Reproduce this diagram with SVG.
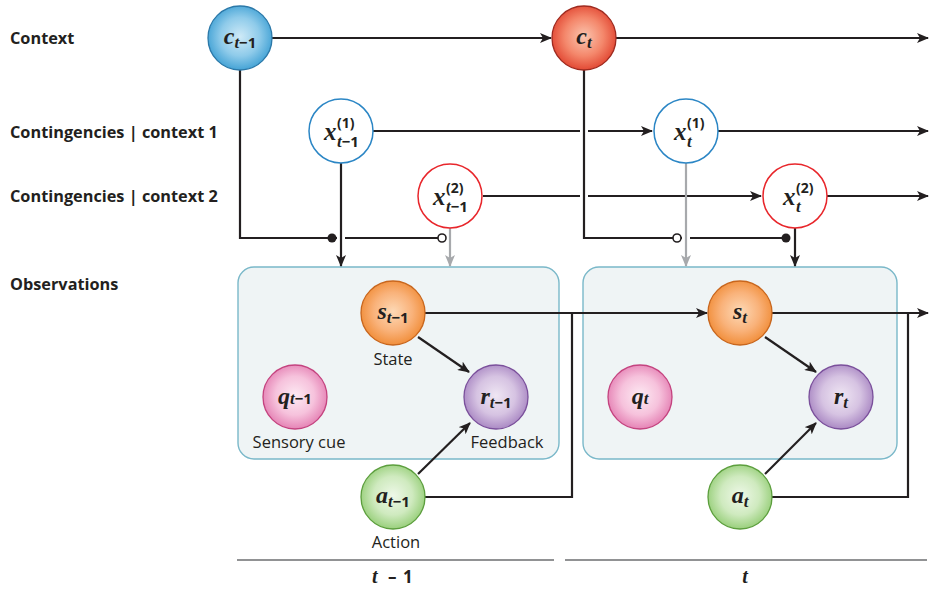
<svg xmlns="http://www.w3.org/2000/svg" width="933" height="589" viewBox="0 0 933 589">
  <defs>
    <radialGradient id="gBlue" cx="50%" cy="48%" r="55%">
      <stop offset="0" stop-color="#cfeaf7"/>
      <stop offset="0.55" stop-color="#8fcbea"/>
      <stop offset="1" stop-color="#3b9ed3"/>
    </radialGradient>
    <radialGradient id="gRed" cx="50%" cy="48%" r="55%">
      <stop offset="0" stop-color="#fbc6b0"/>
      <stop offset="0.55" stop-color="#f4876b"/>
      <stop offset="1" stop-color="#e0412d"/>
    </radialGradient>
    <radialGradient id="gOrange" cx="50%" cy="48%" r="55%">
      <stop offset="0" stop-color="#fdd9b6"/>
      <stop offset="0.55" stop-color="#f9b27a"/>
      <stop offset="1" stop-color="#f08a33"/>
    </radialGradient>
    <radialGradient id="gPink" cx="50%" cy="48%" r="55%">
      <stop offset="0" stop-color="#fdeaf3"/>
      <stop offset="0.55" stop-color="#f6c2dc"/>
      <stop offset="1" stop-color="#e37bb0"/>
    </radialGradient>
    <radialGradient id="gPurple" cx="50%" cy="48%" r="55%">
      <stop offset="0" stop-color="#efe6f3"/>
      <stop offset="0.55" stop-color="#d6c3e2"/>
      <stop offset="1" stop-color="#a582c0"/>
    </radialGradient>
    <radialGradient id="gGreen" cx="50%" cy="48%" r="55%">
      <stop offset="0" stop-color="#eef8e8"/>
      <stop offset="0.55" stop-color="#cfeabf"/>
      <stop offset="1" stop-color="#92cc73"/>
    </radialGradient>
    <marker id="arrow" viewBox="0 0 12 10" refX="11" refY="5" markerWidth="12" markerHeight="10" markerUnits="userSpaceOnUse" orient="auto">
      <path d="M0,0 L12,5 L0,10 L3,5 Z" fill="#231f20"/>
    </marker>
    <marker id="arrowGrey" viewBox="0 0 12 10" refX="11" refY="5" markerWidth="12" markerHeight="10" markerUnits="userSpaceOnUse" orient="auto">
      <path d="M0,0 L12,5 L0,10 L3,5 Z" fill="#a7a9ac"/>
    </marker>
  </defs>
  <style>
    .row { font-family: "Open Sans", "Liberation Sans", sans-serif; font-weight: bold; font-size: 16.3px; fill: #231f20; }
    .cap { font-family: "Open Sans", "Liberation Sans", sans-serif; font-size: 16.5px; fill: #231f20; }
    .var { font-family: "Liberation Serif", serif; font-style: italic; font-weight: bold; fill: #231f20; }
    .num { font-family: "Open Sans", "Liberation Sans", sans-serif; font-style: normal; font-weight: bold; }
    .line { fill: none; stroke: #231f20; stroke-width: 2.2; }
    .grey { fill: none; stroke: #a7a9ac; stroke-width: 2.2; }
    .halo { fill: none; stroke: #ffffff; stroke-width: 8; }
    .box { fill: #eff4f5; stroke: #7ab8c9; stroke-width: 1.4; }
    .axis { stroke: #6d6e71; stroke-width: 1.6; }
    .ring { stroke-width: 1.5; }
  </style>

  <rect width="933" height="589" fill="#ffffff"/>

  <!-- row labels -->
  <g id="row-labels">
    <text class="row" x="10" y="44">Context</text>
    <text class="row" x="10" y="138">Contingencies | context 1</text>
    <text class="row" x="10" y="202">Contingencies | context 2</text>
    <text class="row" x="10" y="290">Observations</text>
  </g>

  <!-- observation panels -->
  <g id="panel-prev"><rect class="box" x="238" y="267" width="321" height="192" rx="16"/></g>
  <g id="panel-curr"><rect class="box" x="583" y="267" width="314" height="192" rx="16"/></g>

  <!-- connectors -->
  <g id="connectors">
    <!-- context chain -->
    <line class="line" x1="272" y1="38" x2="551" y2="38" marker-end="url(#arrow)"/>
    <line class="line" x1="616" y1="38" x2="928" y2="38" marker-end="url(#arrow)"/>
    <!-- contingency chains -->
    <line class="line" x1="373" y1="131" x2="652" y2="131" marker-end="url(#arrow)"/>
    <line class="line" x1="718" y1="131" x2="928" y2="131" marker-end="url(#arrow)"/>
    <line class="line" x1="483" y1="196" x2="761" y2="196" marker-end="url(#arrow)"/>
    <line class="line" x1="827" y1="196" x2="928" y2="196" marker-end="url(#arrow)"/>

    <!-- context gates, t-1 -->
    <polyline class="line" points="240,70 240,238 438,238"/>
    <!-- context gates, t -->
    <line class="halo" x1="584" y1="126" x2="584" y2="136"/>
    <line class="halo" x1="584" y1="191" x2="584" y2="201"/>
    <polyline class="line" points="584,70 584,238 786,238"/>

    <!-- contingency to observation -->
    <line class="halo" x1="341" y1="233" x2="341" y2="243"/>
    <line class="line" x1="341" y1="163" x2="341" y2="266" marker-end="url(#arrow)"/>
    <line class="grey" x1="450" y1="228" x2="450" y2="266" marker-end="url(#arrowGrey)"/>
    <line class="halo" x1="686" y1="233" x2="686" y2="243"/>
    <line class="grey" x1="686" y1="163" x2="686" y2="266" marker-end="url(#arrowGrey)"/>
    <line class="line" x1="795" y1="228" x2="795" y2="266" marker-end="url(#arrow)"/>

    <!-- gate markers -->
    <circle cx="332" cy="238" r="4.5" fill="#231f20"/>
    <circle cx="442" cy="238" r="4" fill="#ffffff" stroke="#231f20" stroke-width="1.6"/>
    <circle cx="677" cy="238" r="4" fill="#ffffff" stroke="#231f20" stroke-width="1.6"/>
    <circle cx="786" cy="238" r="4.5" fill="#231f20"/>

    <!-- state transitions -->
    <line class="line" x1="425" y1="313" x2="707" y2="313" marker-end="url(#arrow)"/>
    <polyline class="line" points="425,497 572,497 572,313"/>
    <line class="line" x1="772" y1="313" x2="928" y2="313" marker-end="url(#arrow)"/>
    <polyline class="line" points="772,497 908,497 908,313"/>

    <!-- within-slice edges -->
    <line class="line" x1="418" y1="337" x2="469" y2="372" marker-end="url(#arrow)"/>
    <line class="line" x1="418" y1="474" x2="470" y2="423" marker-end="url(#arrow)"/>
    <line class="line" x1="765" y1="337" x2="816" y2="372" marker-end="url(#arrow)"/>
    <line class="line" x1="765" y1="474" x2="816" y2="423" marker-end="url(#arrow)"/>
  </g>

  <!-- context nodes -->
  <g id="c-prev">
    <circle cx="240" cy="38" r="32" fill="url(#gBlue)" stroke="#2b78a8" stroke-width="1.3"/>
    <text class="var" x="240" y="44" text-anchor="middle" font-size="24">c<tspan font-size="17" dy="4">t</tspan><tspan class="num" font-size="15">−1</tspan></text>
  </g>
  <g id="c-curr">
    <circle cx="584" cy="38" r="32" fill="url(#gRed)" stroke="#9e2a1f" stroke-width="1.3"/>
    <text class="var" x="584" y="44" text-anchor="middle" font-size="24">c<tspan font-size="17" dy="4">t</tspan></text>
  </g>

  <!-- contingency nodes: variable with stacked superscript and subscript -->
  <g id="x1-prev">
    <circle class="ring" cx="341" cy="131" r="32" fill="#ffffff" stroke="#2b86c5"/>
    <text class="var" x="324" y="140" font-size="25">x<tspan class="num" x="337" y="128" font-size="14">(1)</tspan><tspan x="337" y="147" font-size="17">t</tspan><tspan class="num" font-size="15">−1</tspan></text>
  </g>
  <g id="x2-prev">
    <circle class="ring" cx="450" cy="196" r="32" fill="#ffffff" stroke="#e8262b"/>
    <text class="var" x="433" y="205" font-size="25">x<tspan class="num" x="446" y="193" font-size="14">(2)</tspan><tspan x="446" y="212" font-size="17">t</tspan><tspan class="num" font-size="15">−1</tspan></text>
  </g>
  <g id="x1-curr">
    <circle class="ring" cx="686" cy="131" r="32" fill="#ffffff" stroke="#2b86c5"/>
    <text class="var" x="674" y="140" font-size="25">x<tspan class="num" x="687" y="128" font-size="14">(1)</tspan><tspan x="687" y="147" font-size="17">t</tspan></text>
  </g>
  <g id="x2-curr">
    <circle class="ring" cx="795" cy="196" r="32" fill="#ffffff" stroke="#e8262b"/>
    <text class="var" x="783" y="205" font-size="25">x<tspan class="num" x="796" y="193" font-size="14">(2)</tspan><tspan x="796" y="212" font-size="17">t</tspan></text>
  </g>

  <!-- observation nodes, t-1 -->
  <g id="s-prev">
    <circle cx="393" cy="313" r="32" fill="url(#gOrange)" stroke="#c8661d" stroke-width="1.3"/>
    <text class="var" x="393" y="319" text-anchor="middle" font-size="24">s<tspan font-size="17" dy="4">t</tspan><tspan class="num" font-size="15">−1</tspan></text>
    <text class="cap" x="393" y="365" text-anchor="middle">State</text>
  </g>
  <g id="q-prev">
    <circle cx="295" cy="397" r="32" fill="url(#gPink)" stroke="#c4437f" stroke-width="1.3"/>
    <text class="var" x="295" y="404" text-anchor="middle" font-size="24">q<tspan font-size="17" dy="0">t</tspan><tspan class="num" font-size="15">−1</tspan></text>
    <text class="cap" x="299" y="448" text-anchor="middle">Sensory cue</text>
  </g>
  <g id="r-prev">
    <circle cx="496" cy="397" r="32" fill="url(#gPurple)" stroke="#7a4f9b" stroke-width="1.3"/>
    <text class="var" x="496" y="404" text-anchor="middle" font-size="24">r<tspan font-size="17" dy="4">t</tspan><tspan class="num" font-size="15">−1</tspan></text>
    <text class="cap" x="507" y="448" text-anchor="middle">Feedback</text>
  </g>
  <g id="a-prev">
    <circle cx="393" cy="497" r="32" fill="url(#gGreen)" stroke="#5c9e3d" stroke-width="1.3"/>
    <text class="var" x="393" y="503" text-anchor="middle" font-size="24">a<tspan font-size="17" dy="4">t</tspan><tspan class="num" font-size="15">−1</tspan></text>
    <text class="cap" x="396" y="548" text-anchor="middle">Action</text>
  </g>

  <!-- observation nodes, t -->
  <g id="s-curr">
    <circle cx="740" cy="313" r="32" fill="url(#gOrange)" stroke="#c8661d" stroke-width="1.3"/>
    <text class="var" x="740" y="319" text-anchor="middle" font-size="24">s<tspan font-size="17" dy="4">t</tspan></text>
  </g>
  <g id="q-curr">
    <circle cx="640" cy="397" r="32" fill="url(#gPink)" stroke="#c4437f" stroke-width="1.3"/>
    <text class="var" x="640" y="404" text-anchor="middle" font-size="24">q<tspan font-size="17" dy="0">t</tspan></text>
  </g>
  <g id="r-curr">
    <circle cx="841" cy="397" r="32" fill="url(#gPurple)" stroke="#7a4f9b" stroke-width="1.3"/>
    <text class="var" x="841" y="404" text-anchor="middle" font-size="24">r<tspan font-size="17" dy="4">t</tspan></text>
  </g>
  <g id="a-curr">
    <circle cx="740" cy="497" r="32" fill="url(#gGreen)" stroke="#5c9e3d" stroke-width="1.3"/>
    <text class="var" x="740" y="503" text-anchor="middle" font-size="24">a<tspan font-size="17" dy="4">t</tspan></text>
  </g>

  <!-- time axis -->
  <g id="time-axis">
    <line class="axis" x1="237" y1="560" x2="554" y2="560"/>
    <line class="axis" x1="565" y1="560" x2="927" y2="560"/>
    <text class="var" x="372" y="583" font-size="20">t<tspan class="num" x="388" font-size="17">–</tspan><tspan class="num" x="403" font-size="17">1</tspan></text>
    <text class="var" x="745" y="583" text-anchor="middle" font-size="20">t</text>
  </g>
</svg>
